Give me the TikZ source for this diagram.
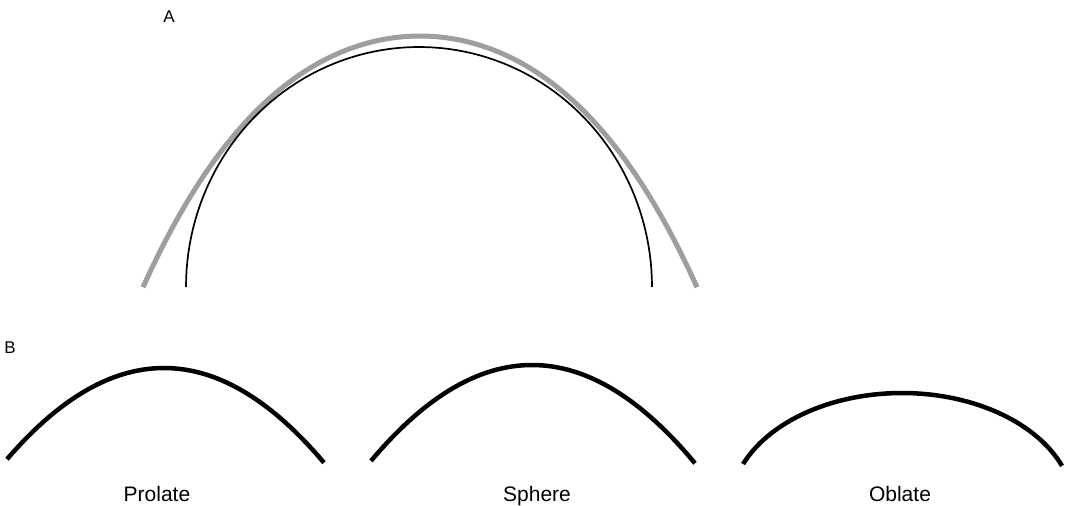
\documentclass[tikz,border=0pt]{standalone}
\usepackage{fontspec}
\setmainfont{Liberation Sans}
\definecolor{fitgray}{RGB}{158,158,158}
\begin{document}
\begin{tikzpicture}[x=1pt, y=-1pt,
    fitcurve/.style={draw=fitgray, line width=5pt},
    contour/.style={draw=black, line width=1.7pt},
    profile/.style={draw=black, line width=4.5pt},
    panel/.style={font=\fontsize{17}{20}\selectfont, anchor=base},
    shapename/.style={font=\fontsize{21}{25}\selectfont, anchor=base}]
    \useasboundingbox (0,0) rectangle (1066,506);

    % Panel A: fitted curve and cell contour
    \node[panel] (A) at (169,23) {A};
    \draw[fitcurve] plot[domain=-277:277, samples=80, variable=\t]
        ({420+\t}, {36+25.37*(\t/100)^2+0.961*(\t/100)^4});
    \draw[contour] plot[domain=180:0, samples=90, variable=\t]
        ({419+233*cos(\t)}, {287-240*sin(\t)});

    % Panel B: the three shapes
    \node[panel] (B) at (10,353) {B};
    % prolate
    \draw[profile] plot[domain=-157:160, samples=60, variable=\t]
        ({164+\t}, {368+37*(\t/100)^2});
    % sphere
    \draw[profile] plot[domain=-161:163, samples=60, variable=\t]
        ({532+\t}, {365+37*(\t/100)^2});
    % oblate
    \draw[profile] plot[domain=157.5:21.5, samples=60, variable=\t]
        ({902+172*cos(\t)}, {508-115*sin(\t)});

    % Names of the shapes
    \node[shapename] (prolate) at (157,501) {Prolate};
    \node[shapename] (sphere) at (537,501) {Sphere};
    \node[shapename] (oblate) at (900,501) {Oblate};
\end{tikzpicture}
\end{document}
